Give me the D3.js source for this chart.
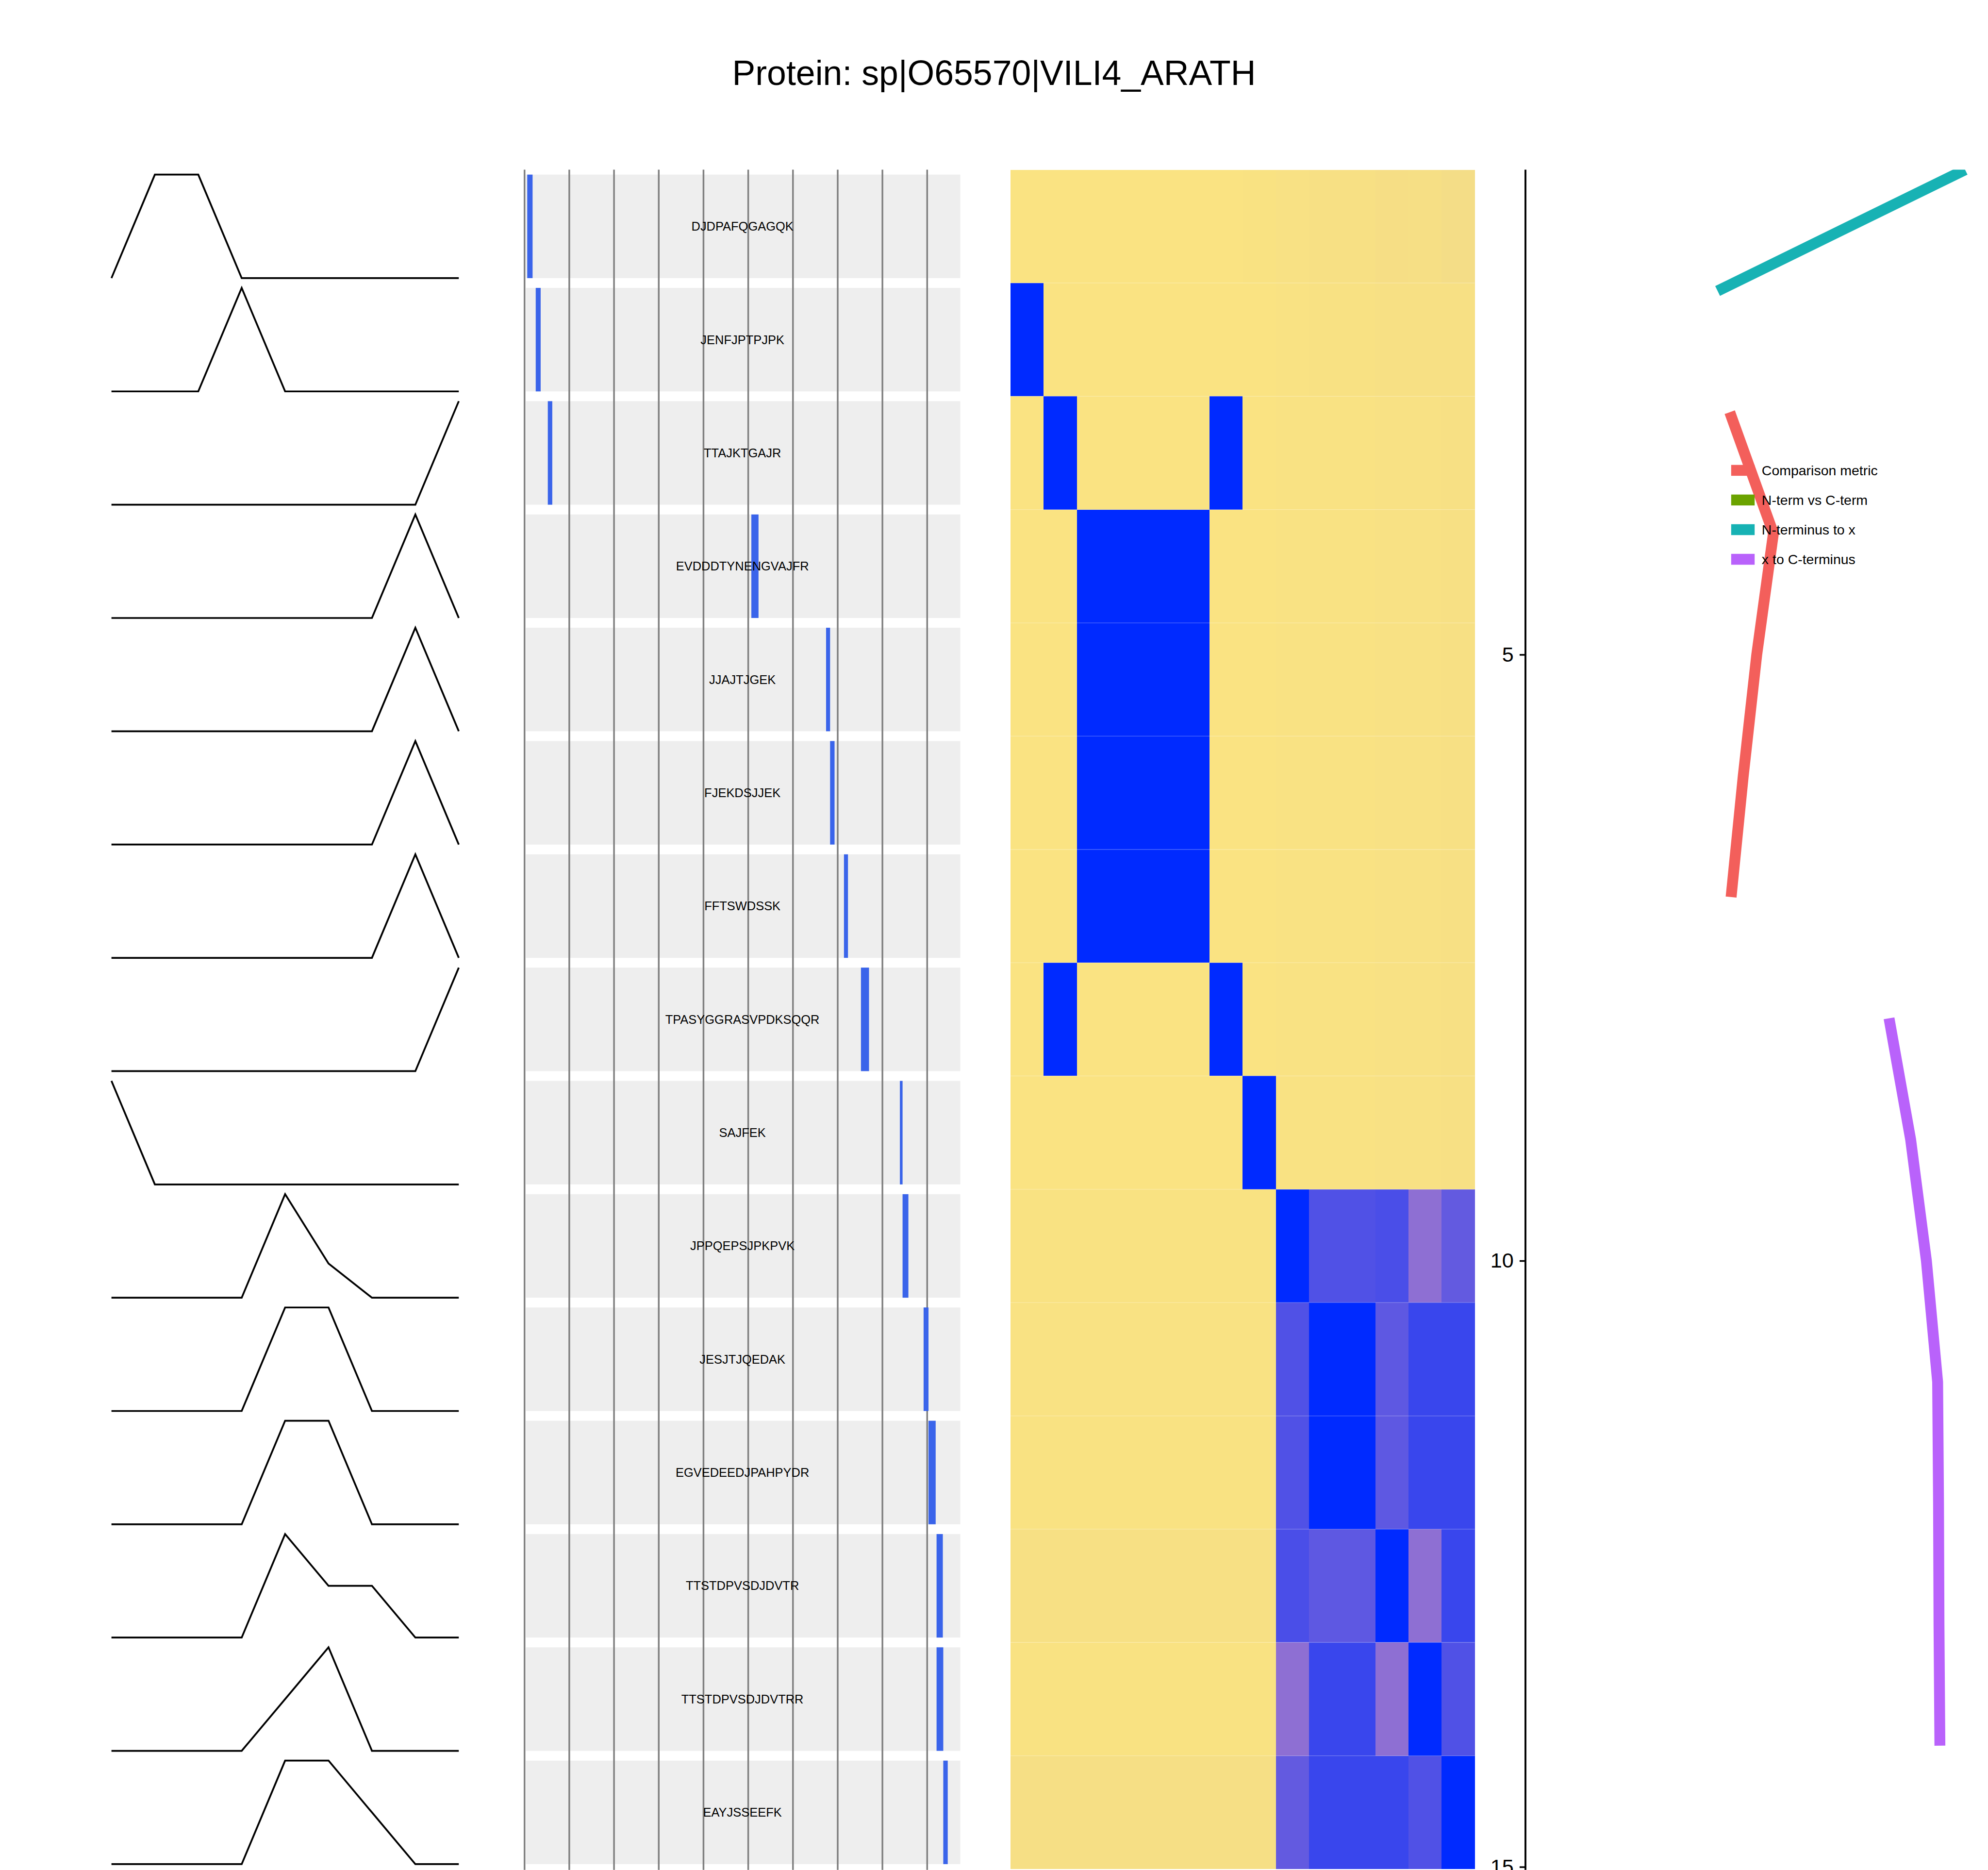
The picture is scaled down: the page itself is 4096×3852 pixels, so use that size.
<!DOCTYPE html>
<html>
<head>
<meta charset="utf-8">
<script src="https://cdn.jsdelivr.net/npm/d3@7"></script>
<style>
  html, body { margin: 0; padding: 0; background: #ffffff; }
  svg { display: block; }
  text { font-family: "Liberation Sans", Arial, Helvetica, sans-serif; }
</style>
</head>
<body>
<script>
// ---------------- DATA ----------------
const title = "Protein: sp|O65570|VILI4_ARATH";

const peptides = [
  "DJDPAFQGAGQK", "JENFJPTPJPK", "TTAJKTGAJR", "EVDDDTYNENGVAJFR", "JJAJTJGEK",
  "FJEKDSJJEK", "FFTSWDSSK", "TPASYGGRASVPDKSQQR", "SAJFEK", "JPPQEPSJPKPVK",
  "JESJTJQEDAK", "EGVEDEEDJPAHPYDR", "TTSTDPVSDJDVTR", "TTSTDPVSDJDVTRR", "EAYJSSEEFK"
];
const pepStart = [7, 26, 53, 508, 675, 684, 715, 753, 840, 846, 893, 904, 922, 922, 937];
const pepEnd   = [18, 36, 62, 523, 683, 693, 723, 770, 845, 858, 903, 919, 935, 936, 946];
const proteinLength = 974;
const proteinStart = 3;
const gridPositions = [0, 100, 200, 300, 400, 500, 600, 700, 800, 900];

// intensity profiles (9 fractions) per peptide, left panel
const profileFractions = [1, 2, 3, 4, 5, 6, 7, 8, 9];
const profiles = [
  [0, 1, 1, 0, 0, 0, 0, 0, 0],
  [0, 0, 0, 1, 0, 0, 0, 0, 0],
  [0, 0, 0, 0, 0, 0, 0, 0, 1],
  [0, 0, 0, 0, 0, 0, 0, 1, 0],
  [0, 0, 0, 0, 0, 0, 0, 1, 0],
  [0, 0, 0, 0, 0, 0, 0, 1, 0],
  [0, 0, 0, 0, 0, 0, 0, 1, 0],
  [0, 0, 0, 0, 0, 0, 0, 0, 1],
  [1, 0, 0, 0, 0, 0, 0, 0, 0],
  [0, 0, 0, 0, 1, 0.33, 0, 0, 0],
  [0, 0, 0, 0, 1, 1, 0, 0, 0],
  [0, 0, 0, 0, 1, 1, 0, 0, 0],
  [0, 0, 0, 0, 1, 0.5, 0.5, 0, 0],
  [0, 0, 0, 0, 0.5, 1, 0, 0, 0],
  [0, 0, 0, 0, 1, 1, 0.5, 0, 0]
];

// correlation heatmap: rows = peptides 1..15, columns = peptides 2..15
const heatColumns = [2, 3, 4, 5, 6, 7, 8, 9, 10, 11, 12, 13, 14, 15];
const heatValues = [
  [0, 0, 0, 0, 0, 0, 0, 0.003, 0.01, 0.013, 0.013, 0.02, 0.017, 0.028],
  [1, 0, 0, 0, 0, 0, 0, 0, 0.006, 0.008, 0.008, 0.012, 0.012, 0.015],
  [0, 1, 0, 0, 0, 0, 1, 0, 0.005, 0.006, 0.006, 0.01, 0.01, 0.012],
  [0, 0, 1, 1, 1, 1, 0, 0, 0.005, 0.006, 0.006, 0.01, 0.01, 0.012],
  [0, 0, 1, 1, 1, 1, 0, 0, 0.005, 0.006, 0.006, 0.01, 0.01, 0.012],
  [0, 0, 1, 1, 1, 1, 0, 0, 0.005, 0.006, 0.006, 0.01, 0.01, 0.012],
  [0, 0, 1, 1, 1, 1, 0, 0, 0.005, 0.006, 0.006, 0.01, 0.01, 0.012],
  [0, 1, 0, 0, 0, 0, 1, 0, 0.005, 0.006, 0.006, 0.01, 0.01, 0.012],
  [0, 0, 0, 0, 0, 0, 0, 1, 0.005, 0.006, 0.006, 0.01, 0.01, 0.012],
  [0.003, 0.003, 0.003, 0.003, 0.003, 0.003, 0.003, 0.003, 1, 0.72, 0.72, 0.74, 0.5, 0.65],
  [0.006, 0.006, 0.006, 0.006, 0.006, 0.006, 0.006, 0.006, 0.72, 1, 1, 0.67, 0.8, 0.8],
  [0.003, 0.003, 0.003, 0.003, 0.003, 0.003, 0.003, 0.003, 0.72, 1, 1, 0.67, 0.8, 0.8],
  [0.014, 0.014, 0.014, 0.014, 0.014, 0.014, 0.014, 0.014, 0.74, 0.67, 0.67, 1, 0.5, 0.8],
  [0.003, 0.003, 0.003, 0.003, 0.003, 0.003, 0.003, 0.003, 0.5, 0.8, 0.8, 0.5, 1, 0.72],
  [0.018, 0.018, 0.018, 0.018, 0.018, 0.018, 0.018, 0.018, 0.65, 0.8, 0.8, 0.8, 0.72, 1]
];
const heatStops = [0, 0.5, 1];
const heatColors = ["#FAE382", "#8E6FD3", "#002AFF"];

// right panel series
const seriesNames  = ["Comparison metric", "N-term vs C-term", "N-terminus to x", "x to C-terminus"];
const seriesColors = ["#F35F5B", "#6BA300", "#17B2B4", "#B962FB"];
const comparisonY = [3, 4, 5, 6, 7];
const comparisonX = [0.454, 0.551, 0.514, 0.484, 0.457];
const ntermToXY = [1, 2];
const ntermToXX = [0.977, 0.427];
const xToCtermY = [8, 9, 10, 11, 12, 13, 14];
const xToCtermX = [0.808, 0.856, 0.891, 0.916, 0.918, 0.919, 0.921];
const rightAxisTicks = [5, 10, 15];

// ---------------- LAYOUT (reference pixel space) ----------------
const REF_W = 4745, REF_H = 4462;
const W = 4096, H = 3852;
const S = W / REF_W;

const svg = d3.select("body").append("svg")
  .attr("width", W).attr("height", H)
  .attr("viewBox", `0 0 ${W} ${H}`);
const root = svg.append("g").attr("transform", `scale(${S})`);

const rowIdx = d3.range(peptides.length);

// shared row bands
const rowBand = d3.scaleBand().domain(rowIdx).range([405, 4460])
  .paddingInner(0.0862).paddingOuter(0.0431);
const heatRowBand = d3.scaleBand().domain(rowIdx).range([405, 4460]).padding(0);

// Title
root.append("text")
  .attr("x", REF_W / 2).attr("y", 203)
  .attr("text-anchor", "middle")
  .attr("font-size", 83)
  .attr("fill", "#000")
  .text(title);

// ---------------- LEFT: profiles ----------------
const profX = d3.scaleLinear().domain([1, 9]).range([266, 1095]);
const leftG = root.append("g");
rowIdx.forEach(i => {
  const top = rowBand(i), bw = rowBand.bandwidth();
  const py = d3.scaleLinear().domain([0, 1]).range([top + bw, top]);
  const line = d3.line().x((d, k) => profX(profileFractions[k])).y(d => py(d));
  leftG.append("path")
    .attr("d", line(profiles[i]))
    .attr("fill", "none")
    .attr("stroke", "#000")
    .attr("stroke-width", 4.3)
    .attr("stroke-linejoin", "miter");
});

// ---------------- MIDDLE: coverage ----------------
const posX = d3.scaleLinear().domain([0, proteinLength]).range([1252, 2292]);
const midG = root.append("g");
rowIdx.forEach(i => {
  midG.append("rect")
    .attr("x", posX(proteinStart)).attr("y", rowBand(i))
    .attr("width", posX(proteinLength) - posX(proteinStart))
    .attr("height", rowBand.bandwidth())
    .attr("fill", "#EEEEEE");
});
midG.selectAll("line.grid").data(gridPositions).enter().append("line")
  .attr("class", "grid")
  .attr("x1", d => posX(d)).attr("x2", d => posX(d))
  .attr("y1", 405).attr("y2", REF_H)
  .attr("stroke", "#7F7F7F").attr("stroke-width", 4);
midG.selectAll("rect.pep").data(rowIdx).enter().append("rect")
  .attr("class", "pep")
  .attr("x", i => posX(pepStart[i] - 1))
  .attr("y", i => rowBand(i))
  .attr("width", i => posX(pepEnd[i]) - posX(pepStart[i] - 1))
  .attr("height", rowBand.bandwidth())
  .attr("fill", "#3A64EA");
midG.selectAll("text.pep").data(rowIdx).enter().append("text")
  .attr("class", "pep")
  .attr("x", posX(proteinLength / 2))
  .attr("y", i => rowBand(i) + rowBand.bandwidth() / 2)
  .attr("dy", "0.35em")
  .attr("text-anchor", "middle")
  .attr("font-size", 29.5)
  .attr("fill", "#000")
  .text(i => peptides[i]);

// ---------------- HEATMAP ----------------
const colBand = d3.scaleBand().domain(heatColumns).range([2412, 3520]).padding(0);
const heatColor = d3.scaleLinear().domain(heatStops).range(heatColors).clamp(true);
const heatG = root.append("g");
const cells = [];
rowIdx.forEach(i => heatColumns.forEach((c, j) => cells.push({ r: i, c: c, v: heatValues[i][j] })));
heatG.selectAll("rect").data(cells).enter().append("rect")
  .attr("x", d => colBand(d.c))
  .attr("y", d => heatRowBand(d.r))
  .attr("width", colBand.bandwidth() + 0.5)
  .attr("height", heatRowBand.bandwidth() + 0.5)
  .attr("fill", d => heatColor(d.v))
  .attr("shape-rendering", "crispEdges");
// faint row separators
heatG.selectAll("line.sep").data(rowIdx).enter().append("line")
  .attr("class", "sep")
  .attr("x1", colBand.range()[0]).attr("x2", colBand.range()[1])
  .attr("y1", i => heatRowBand(i)).attr("y2", i => heatRowBand(i))
  .attr("stroke", "#ffffff").attr("stroke-opacity", 0.3).attr("stroke-width", 1.5);

// ---------------- RIGHT: metric lines ----------------
const axisX = 3641;
const ry = d3.scaleLinear().domain([1, 15]).range([405, 4455]);
const rx = d3.scaleLinear().domain([0, 1]).range([axisX, 4715]);
const rightG = root.append("g");

const defs = svg.append("defs");
defs.append("clipPath").attr("id", "rclip").append("rect")
  .attr("x", axisX).attr("y", 405).attr("width", REF_W - axisX).attr("height", REF_H - 405);

const linesG = rightG.append("g").attr("clip-path", "url(#rclip)");
const rline = d3.line().x(d => rx(d[0])).y(d => ry(d[1]));
const seriesData = [
  { color: seriesColors[0], pts: comparisonX.map((x, k) => [x, comparisonY[k]]) },
  { color: seriesColors[2], pts: ntermToXX.map((x, k) => [x, ntermToXY[k]]) },
  { color: seriesColors[3], pts: xToCtermX.map((x, k) => [x, xToCtermY[k]]) }
];
seriesData.forEach(s => {
  linesG.append("path")
    .attr("d", rline(s.pts))
    .attr("fill", "none")
    .attr("stroke", s.color)
    .attr("stroke-width", 26)
    .attr("stroke-linecap", "butt")
    .attr("stroke-linejoin", "miter");
});

// axis
const yAxis = d3.axisLeft(ry).tickValues(rightAxisTicks).tickSize(14).tickPadding(14).tickFormat(d3.format("d"));
const axG = rightG.append("g").attr("transform", `translate(${axisX},0)`).call(yAxis);
axG.select(".domain").remove();
axG.selectAll(".tick line").attr("stroke", "#000").attr("stroke-width", 4);
axG.selectAll(".tick text")
  .attr("font-size", 50)
  .attr("fill", "#000")
  .attr("font-family", "Liberation Sans, Arial, sans-serif");
rightG.append("line")
  .attr("x1", axisX).attr("x2", axisX)
  .attr("y1", 405).attr("y2", REF_H)
  .attr("stroke", "#000").attr("stroke-width", 4.5);

// legend
const legY = d3.scaleBand().domain(seriesNames).range([1087, 1370]).padding(0);
const legG = rightG.append("g");
legG.selectAll("rect").data(seriesNames).enter().append("rect")
  .attr("x", 4132)
  .attr("y", d => legY(d) + legY.bandwidth() / 2 - 13)
  .attr("width", 56).attr("height", 26)
  .attr("fill", (d, k) => seriesColors[k]);
legG.selectAll("text").data(seriesNames).enter().append("text")
  .attr("x", 4205)
  .attr("y", d => legY(d) + legY.bandwidth() / 2)
  .attr("dy", "0.35em")
  .attr("font-size", 33)
  .attr("fill", "#000")
  .text(d => d);
</script>
</body>
</html>
